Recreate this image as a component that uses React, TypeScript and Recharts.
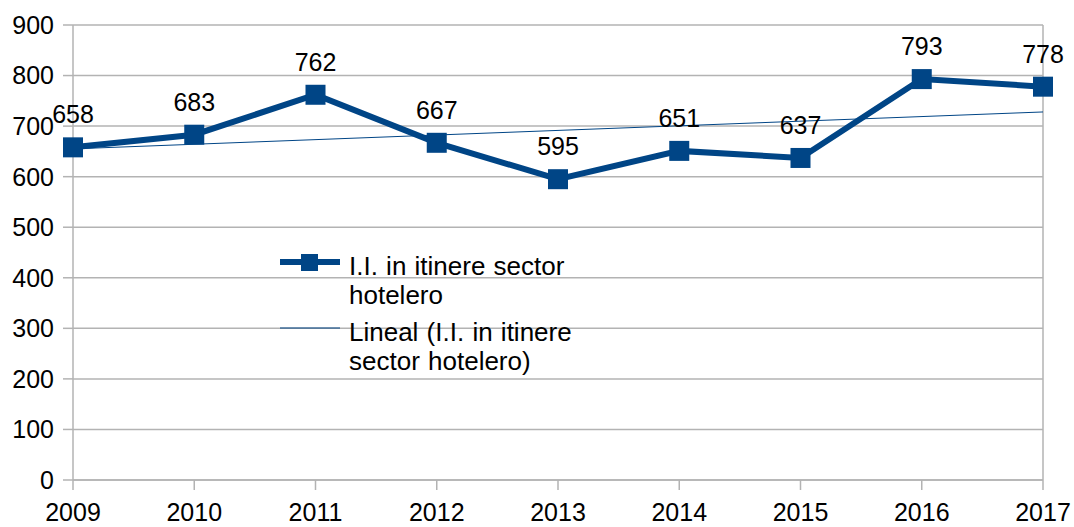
import { CartesianGrid, Legend, LabelList, Line, LineChart, ReferenceLine, XAxis, YAxis } from "recharts";

const years = ["2009", "2010", "2011", "2012", "2013", "2014", "2015", "2016", "2017"];
const incidents = [658, 683, 762, 667, 595, 651, 637, 793, 778];
// linear trend at its two ends
const trendEnds = [655, null, null, null, null, null, null, null, 728];
const yTicks = [0, 100, 200, 300, 400, 500, 600, 700, 800, 900];

const BLUE = "#004586";
const GRID = "#b3b3b3";
const FONT = "'Liberation Sans', Arial, sans-serif";

const data = years.map((year, i) => ({ year, value: incidents[i], trend: trendEnds[i] }));

function SquareDot(props: any) {
  const { cx, cy } = props;
  if (cx == null || cy == null) return null;
  return <rect x={cx - 10} y={cy - 10} width={20} height={20} fill={BLUE} />;
}

function ValueLabel(props: any) {
  const { x, y, value } = props;
  return (
    <text x={x} y={y - 24} textAnchor="middle" fontSize={25} fill="#000" fontFamily={FONT}>
      {value}
    </text>
  );
}

function ChartLegend() {
  const row = { display: "flex", alignItems: "flex-start", marginBottom: 8 } as const;
  const text = { fontSize: 26, lineHeight: "29px", color: "#000", width: 250, wordSpacing: "1px" } as const;
  return (
    <div style={{ fontFamily: FONT }}>
      <div style={row}>
        <svg width={69} height={29} style={{ flexShrink: 0 }}>
          <line x1={0} y1={10} x2={60} y2={10} stroke={BLUE} strokeWidth={6} />
          <rect x={21} y={2} width={17} height={17} fill={BLUE} />
        </svg>
        <div style={text}>I.I. in itinere sector hotelero</div>
      </div>
      <div style={row}>
        <svg width={69} height={29} style={{ flexShrink: 0 }}>
          <line x1={0} y1={10} x2={60} y2={10} stroke={BLUE} strokeWidth={1} />
        </svg>
        <div style={text}>Lineal (I.I. in itinere sector hotelero)</div>
      </div>
    </div>
  );
}

export default function App() {
  return (
    <div style={{ position: "absolute", left: 0, top: 0, background: "#fff" }}>
      <LineChart width={1074} height={527} data={data} margin={{ top: 25, right: 31, left: 0, bottom: 0 }}>
        <CartesianGrid horizontal vertical={false} stroke={GRID} strokeWidth={1.5} />
        <XAxis
          dataKey="year"
          scale="point"
          padding={{ left: 0, right: 0 }}
          height={47}
          axisLine={{ stroke: GRID, strokeWidth: 1.5 }}
          tickLine={{ stroke: GRID, strokeWidth: 1.5 }}
          tickSize={10}
          tickMargin={13}
          tick={{ fontSize: 25, fill: "#000", fontFamily: FONT }}
          interval={0}
        />
        <YAxis
          domain={[0, 900]}
          ticks={yTicks}
          width={73}
          axisLine={{ stroke: GRID, strokeWidth: 1.5 }}
          tickLine={{ stroke: GRID, strokeWidth: 1.5 }}
          tickSize={10}
          tickMargin={9}
          tick={{ fontSize: 25, fill: "#000", fontFamily: FONT }}
        />
        <ReferenceLine x="2017" stroke={GRID} strokeWidth={1.5} />
        <Line
          dataKey="trend"
          stroke={BLUE}
          strokeWidth={1}
          dot={false}
          connectNulls
          isAnimationActive={false}
        />
        <Line
          dataKey="value"
          stroke={BLUE}
          strokeWidth={6}
          dot={<SquareDot />}
          activeDot={false}
          isAnimationActive={false}
        >
          <LabelList dataKey="value" content={<ValueLabel />} />
        </Line>
        <Legend
          verticalAlign="middle"
          align="center"
          content={<ChartLegend />}
          wrapperStyle={{ position: "absolute", left: 280, top: 252, width: 330 }}
        />
      </LineChart>
    </div>
  );
}
